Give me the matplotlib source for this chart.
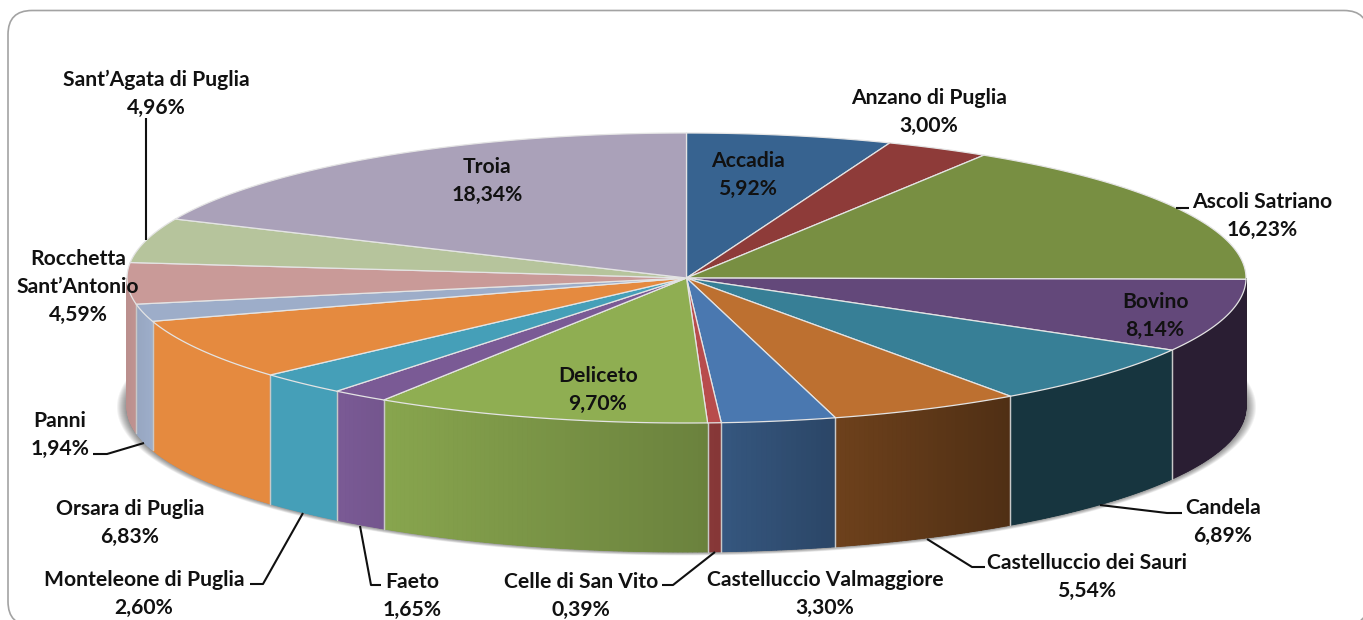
import numpy as np
import matplotlib
matplotlib.use("Agg")
import matplotlib.pyplot as plt
from matplotlib.patches import Polygon, FancyBboxPatch
from matplotlib.collections import PolyCollection
from matplotlib.colors import to_rgb

plt.rcParams['font.family'] = ['Lato', 'DejaVu Sans']

# Dati
comuni = ["Accadia", "Anzano di Puglia", "Ascoli Satriano", "Bovino", "Candela",
          "Castelluccio dei Sauri", "Castelluccio Valmaggiore", "Celle di San Vito",
          "Deliceto", "Faeto", "Monteleone di Puglia", "Orsara di Puglia", "Panni",
          "Rocchetta\nSant’Antonio", "Sant’Agata di Puglia", "Troia"]
quote = [5.92, 3.00, 16.23, 8.14, 6.89, 5.54, 3.30, 0.39,
         9.70, 1.65, 2.60, 6.83, 1.94, 4.59, 4.96, 18.34]
colori = ["#376390", "#8e3b39", "#788f42", "#63487a", "#377f96", "#bd7030", "#4a78b0", "#b84c4c",
          "#8fae52", "#7a5a95", "#459fb8", "#e58a3f", "#9dadc9", "#c99a98", "#b6c49c", "#aaa1b9"]

# Geometria della torta in pixel
cx, cy = 686.5, 278
rx, ry = 559.5, 145
spessore = 129
bordo = "#e4e4e4"

# posizione delle etichette (centro del blocco di testo)
pos_etichette = [(748, 175), (929, 112), (1262, 216), (1155, 316), (1223, 522),
                 (1087, 577), (825, 594), (581, 596), (598, 390), (412, 596),
                 (144, 594), (130, 523), (60, 435), (78, 287), (156, 94), (487, 181)]

# linee guida
guide = [[(146, 118), (146, 240)],
         [(1176, 208), (1189, 208)],
         [(93, 454), (107, 454), (144, 443)],
         [(250, 584), (263, 584), (303, 513)],
         [(381, 585), (371, 585), (360, 526)],
         [(662, 585), (673, 585), (715, 552)],
         [(985, 567), (972, 567), (927, 539)],
         [(1182, 513), (1167, 513), (1100, 505)]]

fig = plt.figure(figsize=(13.63, 6.20), dpi=100)
ax = fig.add_axes([0, 0, 1, 1])
ax.set_xlim(0, 1363)
ax.set_ylim(620, 0)
ax.axis('off')

# cornice arrotondata
ax.add_patch(FancyBboxPatch((8 + 24, 10.5 + 24), 1360 - 48, 615 - 48,
                            boxstyle="round,pad=24,rounding_size=24",
                            fc='white', ec='#a3a3a3', lw=1.2, zorder=0))


def punto(gradi, dy=0.0):
    t = np.radians(gradi)
    return cx + rx * np.sin(t), cy - ry * np.cos(t) + dy


def ombra_fattore(x):
    # la parete si scurisce andando verso destra
    return np.interp(x, [127, 150, 340, 383, 700, 835, 1010], [0.93, 1.0, 1.0, 0.95, 0.75, 0.58, 0.42])


# ombra sfumata sotto la torta
t_ombra = np.radians(np.linspace(0, 360, 721))
for k in range(1, 11):
    xs = cx + (rx + k) * np.sin(t_ombra)
    ys = cy + spessore - (ry + k * 0.35) * np.cos(t_ombra)
    ax.add_patch(Polygon(np.column_stack([xs, ys]), fc='black', ec='none', alpha=0.05, zorder=1))

perc = np.array(quote) / sum(quote) * 360
inizio = np.concatenate([[0], np.cumsum(perc)[:-1]])
fine = np.cumsum(perc)

# pareti laterali (solo la metà anteriore)
for a0, a1, col in zip(inizio, fine, colori):
    a = max(a0, 90)
    b = min(a1, 270)
    if b <= a:
        continue
    angoli = np.linspace(a, b, max(2, int((b - a) * 2) + 1))
    # fondo pieno, così non si vedono le giunture tra i quadrilateri
    xs, ys = punto(angoli)
    medio = ombra_fattore(xs.mean())
    ax.add_patch(Polygon(np.column_stack([np.r_[xs, xs[::-1]], np.r_[ys, ys[::-1] + spessore]]),
                         fc=tuple(c * medio for c in to_rgb(col)), ec='none', zorder=2))
    quad = []
    facce = []
    for u, v in zip(angoli[:-1], angoli[1:]):
        x0, y0 = punto(u)
        x1, y1 = punto(v)
        quad.append([(x0, y0), (x1, y1), (x1, y1 + spessore), (x0, y0 + spessore)])
        f = ombra_fattore((x0 + x1) / 2)
        facce.append(tuple(c * f for c in to_rgb(col)))
    ax.add_collection(PolyCollection(quad, facecolors=facce, edgecolors=facce, linewidths=0.6, zorder=2))
    for ang in (a, b):
        if 90.6 < ang < 269.5:
            x0, y0 = punto(ang)
            ax.plot([x0, x0], [y0, y0 + spessore], color='#c8c8c8', lw=0.9, zorder=3)

# faccia superiore
for a0, a1, col in zip(inizio, fine, colori):
    angoli = np.linspace(a0, a1, max(3, int(a1 - a0) * 2 + 3))
    xs, ys = punto(angoli)
    verts = np.column_stack([np.r_[cx, xs], np.r_[cy, ys]])
    ax.add_patch(Polygon(verts, closed=True, fc=col, ec=bordo, lw=0.9, joinstyle='round', zorder=4))

# linee guida
for g in guide:
    gx, gy = zip(*g)
    ax.plot(gx, gy, color='#101010', lw=1.5, solid_capstyle='butt', zorder=5)

# etichette
for nome, q, (lx, ly) in zip(comuni, quote, pos_etichette):
    testo = nome + "\n" + f"{q:.2f}".replace('.', ',') + "%"
    ax.text(lx, ly, testo, ha='center', va='center', ma='center', fontsize=15.2,
            fontweight='bold', color='#111111', linespacing=1.47, zorder=6)

fig.savefig("out.png", dpi=100)
